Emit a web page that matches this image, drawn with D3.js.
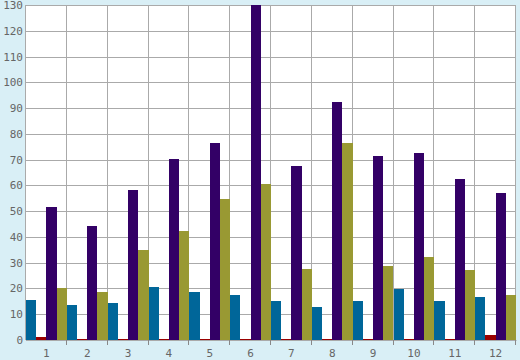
<!DOCTYPE html>
<html>
<head>
<meta charset="utf-8">
<script src="https://cdn.jsdelivr.net/npm/d3@7"></script>
<style>
  body { margin: 0; background: #d9eff6; }
  svg { display: block; }
</style>
</head>
<body>
<div id="chart"></div>
<script>
// chart data
var categories = ["1", "2", "3", "4", "5", "6", "7", "8", "9", "10", "11", "12"];
var seriesNames = ["blue", "red", "purple", "olive"];
var blueValues   = [15.7, 13.7, 14.5, 20.7, 18.8, 17.6, 15, 13, 15.3, 19.6, 15.3, 16.8];
var redValues    = [1, 0.3, 0.3, 0.3, 0.3, 0.3, 0.3, 0.3, 0.3, 0.3, 0.3, 1.8];
var purpleValues = [51.7, 44.3, 58.2, 70.3, 76.5, 130, 67.6, 92.4, 71.5, 72.7, 62.5, 57.1];
var oliveValues  = [20.3, 18.8, 35, 42.3, 54.7, 60.5, 27.5, 76.5, 28.8, 32.3, 27.3, 17.6];
var yTicks = [0, 10, 20, 30, 40, 50, 60, 70, 80, 90, 100, 110, 120, 130];

var colors = { blue: "#006699", red: "#990000", purple: "#330066", olive: "#999933" };

var margin = {top: 5, right: 4, bottom: 20, left: 26},
    width  = 520 - margin.left - margin.right,
    height = 360 - margin.top - margin.bottom;

var table = categories.map(function(c, i) {
  return { cat: c, blue: blueValues[i], red: redValues[i], purple: purpleValues[i], olive: oliveValues[i] };
});

var x = d3.scaleBand().domain(categories).range([0, width]).padding(0);
var xs = d3.scaleBand().domain(seriesNames).range([0, x.bandwidth()]).padding(0);
var y = d3.scaleLinear().domain([0, 130]).range([height, 0]);

var svg = d3.select("#chart").append("svg")
            .attr("width", 520)
            .attr("height", 360)
            .style("background", "#d9eff6")
            .append("g")
            .attr("transform", "translate(" + margin.left + "," + margin.top + ")");

// plot background
svg.append("rect")
   .attr("width", width)
   .attr("height", height)
   .attr("fill", "#fff");

// horizontal grid
svg.selectAll(".hgrid")
   .data(yTicks)
   .enter().append("line")
   .attr("x1", 0).attr("x2", width)
   .attr("y1", function(d) { return Math.round(y(d)) + 0.5; })
   .attr("y2", function(d) { return Math.round(y(d)) + 0.5; })
   .attr("stroke", "#aaa");

// vertical grid at category boundaries
svg.selectAll(".vgrid")
   .data(categories)
   .enter().append("line")
   .attr("x1", function(d) { return Math.round(x(d) + x.bandwidth()) - 0.5; })
   .attr("x2", function(d) { return Math.round(x(d) + x.bandwidth()) - 0.5; })
   .attr("y1", 0).attr("y2", height)
   .attr("stroke", "#aaa");

// bars
var groups = svg.selectAll(".grp")
   .data(table)
   .enter().append("g")
   .attr("transform", function(d) { return "translate(" + x(d.cat) + ",0)"; });

groups.selectAll("rect")
   .data(function(d) { return seriesNames.map(function(k) { return { key: k, value: d[k] }; }); })
   .enter().append("rect")
   .attr("x", function(d) { return xs(d.key); })
   .attr("width", xs.bandwidth())
   .attr("y", function(d) { return y(d.value); })
   .attr("height", function(d) { return height - y(d.value); })
   .attr("fill", function(d) { return colors[d.key]; })
   .attr("shape-rendering", "crispEdges");

// left axis line
svg.append("line")
   .attr("x1", -0.5).attr("x2", -0.5)
   .attr("y1", 0).attr("y2", height)
   .attr("stroke", "#aaa");

// y labels
var yAxis = svg.append("g")
   .call(d3.axisLeft(y).tickValues(yTicks).tickSize(0).tickPadding(3));
yAxis.select(".domain").remove();
yAxis.selectAll("text")
   .attr("fill", "#666")
   .style("font-family", "DejaVu Sans Mono, monospace")
   .style("font-size", "11px");

// x axis
var xAxis = svg.append("g")
   .attr("transform", "translate(0," + height + ")")
   .call(d3.axisBottom(x).tickSize(0).tickPadding(9));
xAxis.select(".domain").attr("stroke", "#aaa");
xAxis.selectAll("text")
   .attr("fill", "#666")
   .style("font-family", "DejaVu Sans Mono, monospace")
   .style("font-size", "11px");

// small ticks at category boundaries
svg.selectAll(".xtick")
   .data(categories)
   .enter().append("line")
   .attr("x1", function(d) { return Math.round(x(d) + x.bandwidth()) - 0.5; })
   .attr("x2", function(d) { return Math.round(x(d) + x.bandwidth()) - 0.5; })
   .attr("y1", height).attr("y2", height + 5)
   .attr("stroke", "#888");
</script>
</body>
</html>
